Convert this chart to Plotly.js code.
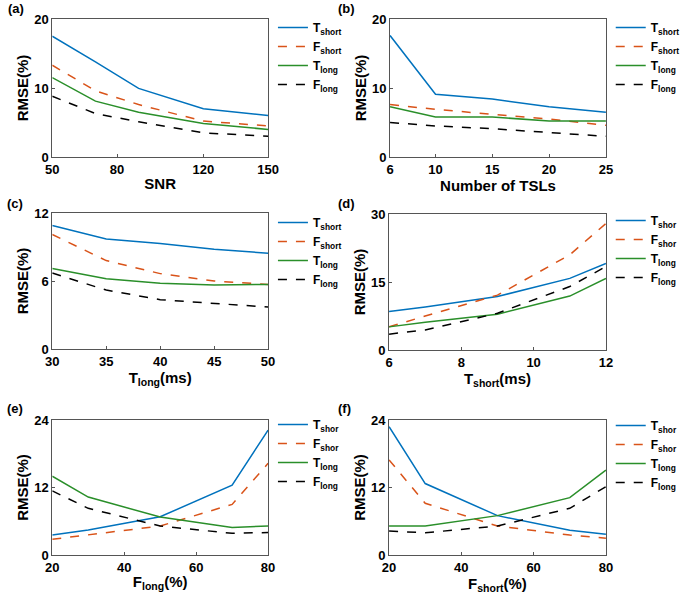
<!DOCTYPE html>
<html><head><meta charset="utf-8">
<script src="https://cdn.plot.ly/plotly-3.0.1.min.js"></script>
<style>html,body{margin:0;padding:0;background:#fff}#chart{width:685px;height:597px}</style>
</head><body><div id="chart"></div>
<script>
// ---- data ----
const snr = [50, 70, 90, 120, 150];
const a_Tshort = [17.5, 13.8, 9.95, 7.0, 6.0];
const a_Fshort = [13.3, 9.6, 7.6, 5.2, 4.5];
const a_Tlong  = [11.5, 8.1, 6.5, 4.85, 4.0];
const a_Flong  = [8.8, 6.3, 5.1, 3.5, 3.0];

const tsl = [6, 10, 15, 20, 25];
const b_Tshort = [17.6, 9.1, 8.4, 7.3, 6.5];
const b_Fshort = [7.6, 6.9, 6.2, 5.5, 4.6];
const b_Tlong  = [7.3, 5.8, 5.8, 5.2, 5.2];
const b_Flong  = [5.0, 4.5, 4.1, 3.6, 3.0];

const tlong = [30, 35, 40, 45, 50];
const c_Tshort = [10.9, 9.7, 9.3, 8.8, 8.45];
const c_Fshort = [10.1, 7.8, 6.65, 6.0, 5.7];
const c_Tlong  = [7.1, 6.2, 5.8, 5.65, 5.7];
const c_Flong  = [6.7, 5.2, 4.35, 4.0, 3.7];

const tshort = [6, 7, 9, 11, 12];
const d_Tshort = [8.5, 9.5, 11.8, 15.8, 19.1];
const d_Fshort = [5.1, 7.5, 12.1, 21.0, 27.9];
const d_Tlong  = [5.1, 6.1, 7.9, 11.9, 15.8];
const d_Flong  = [3.5, 4.4, 8.1, 14.0, 18.4];

const flong = [20, 30, 50, 70, 80];
const e_Tshort = [3.55, 4.45, 6.8, 12.4, 22.2];
const e_Fshort = [2.8, 3.55, 5.15, 9.0, 16.3];
const e_Tlong  = [14.0, 10.3, 6.75, 4.9, 5.15];
const e_Flong  = [11.4, 8.3, 5.15, 3.85, 4.0];

const fshort = [20, 30, 50, 70, 80];
const f_Tshort = [22.8, 12.7, 7.0, 4.4, 3.7];
const f_Fshort = [16.9, 9.2, 5.15, 3.55, 3.0];
const f_Tlong  = [5.15, 5.15, 7.0, 10.2, 15.1];
const f_Flong  = [4.25, 3.95, 5.15, 8.3, 12.15];

const namesFull = ['T<sub>short</sub>', 'F<sub>short</sub>', 'T<sub>long</sub>', 'F<sub>long</sub>'];
const namesCut  = ['T<sub>shor</sub>', 'F<sub>shor</sub>', 'T<sub>long</sub>', 'F<sub>long</sub>'];

const colors = ['#0072BD', '#D95319', '#2A8F2A', '#000000'];
const dashes = ['solid', 'dash', 'solid', 'dash'];

const panels = [
  {x: snr,    ys: [a_Tshort, a_Fshort, a_Tlong, a_Flong], names: namesFull, xr: [50,150], xt: [50,80,120,150], yr: [0,20], yt: [0,10,20], xtitle: 'SNR', label: '(a)'},
  {x: tsl,    ys: [b_Tshort, b_Fshort, b_Tlong, b_Flong], names: namesFull, xr: [6,25], xt: [6,10,15,20,25], yr: [0,20], yt: [0,10,20], xtitle: 'Number of TSLs', label: '(b)'},
  {x: tlong,  ys: [c_Tshort, c_Fshort, c_Tlong, c_Flong], names: namesFull, xr: [30,50], xt: [30,35,40,45,50], yr: [0,12], yt: [0,6,12], xtitle: 'T<sub>long</sub>(ms)', label: '(c)'},
  {x: tshort, ys: [d_Tshort, d_Fshort, d_Tlong, d_Flong], names: namesCut, xr: [6,12], xt: [6,8,10,12], yr: [0,30], yt: [0,15,30], xtitle: 'T<sub>short</sub>(ms)', label: '(d)'},
  {x: flong,  ys: [e_Tshort, e_Fshort, e_Tlong, e_Flong], names: namesCut, xr: [20,80], xt: [20,40,60,80], yr: [0,24], yt: [0,12,24], xtitle: 'F<sub>long</sub>(%)', label: '(e)'},
  {x: fshort, ys: [f_Tshort, f_Fshort, f_Tlong, f_Flong], names: namesCut, xr: [20,80], xt: [20,40,60,80], yr: [0,24], yt: [0,12,24], xtitle: 'F<sub>short</sub>(%)', label: '(f)'}
];

// layout geometry (pixels in a 685x597 page)
const W = 685, H = 597;
const boxes = [
  {l: 54,  r: 277, t: 19,  b: 157, lx: 6,   ly: 9,   legOff: -6},
  {l: 403, r: 626, t: 19,  b: 157, lx: 347, ly: 9,   legOff: -6},
  {l: 54,  r: 277, t: 213, b: 349, lx: 5,   ly: 203, legOff: -5},
  {l: 402, r: 626, t: 214, b: 350, lx: 347, ly: 203, legOff: -8},
  {l: 54,  r: 277, t: 420, b: 555, lx: 5,   ly: 408, legOff: -10},
  {l: 402, r: 626, t: 420, b: 555, lx: 347, ly: 408, legOff: -9}
];

const fam = 'Liberation Sans, Arial, sans-serif';
const traces = [];
const layout = {
  width: W, height: H,
  margin: {l: 0, r: 0, t: 0, b: 0},
  paper_bgcolor: '#fff', plot_bgcolor: '#fff',
  font: {family: fam, size: 12, color: '#000', weight: 'bold'},
  annotations: [],
  showlegend: true
};

panels.forEach((p, i) => {
  const k = i + 1;
  const sfx = (k === 1 ? '' : String(k));
  const xa = 'x' + sfx, ya = 'y' + sfx, lg = 'legend' + sfx;
  p.ys.forEach((y, j) => {
    traces.push({
      type: 'scatter', mode: 'lines', x: p.x, y: y, name: p.names[j],
      xaxis: xa, yaxis: ya, legend: lg,
      line: {color: colors[j], width: 1.5, dash: dashes[j]}
    });
  });
  const bx = boxes[i];
  const axCommon = {
    showgrid: false, zeroline: false, showline: true, linecolor: '#555', linewidth: 1,
    mirror: true, ticks: 'inside', ticklen: 3, tickcolor: '#555',
    tickfont: {family: fam, size: 13, color: '#000', weight: 'bold'}
  };
  layout['xaxis' + sfx] = Object.assign({}, axCommon, {
    domain: [bx.l / W, bx.r / W], anchor: ya, range: p.xr, tickvals: p.xt,
    title: {text: p.xtitle, font: {family: fam, size: 15, color: '#000', weight: 'bold'}, standoff: 2}
  });
  layout['yaxis' + sfx] = Object.assign({}, axCommon, {
    domain: [1 - bx.b / H, 1 - bx.t / H], anchor: xa, range: p.yr, tickvals: p.yt,
    title: {text: 'RMSE(%)', font: {family: fam, size: 15, color: '#000', weight: 'bold'}, standoff: 1}
  });
  layout[lg] = {
    x: (bx.r + 5) / W, y: 1 - (bx.t + bx.legOff) / H, xanchor: 'left', yanchor: 'top',
    bgcolor: 'rgba(0,0,0,0)', borderwidth: 0,
    font: {family: fam, size: 12, color: '#000', weight: 'bold'},
    tracegroupgap: 0, itemwidth: 30
  };
  layout.annotations.push({
    text: p.label, xref: 'paper', yref: 'paper', x: bx.lx / W, y: 1 - bx.ly / H,
    xanchor: 'left', yanchor: 'middle', showarrow: false,
    font: {family: fam, size: 13, color: '#000', weight: 'bold'}
  });
});

Plotly.newPlot('chart', traces, layout, {displayModeBar: false, staticPlot: true});
</script>
</body></html>
